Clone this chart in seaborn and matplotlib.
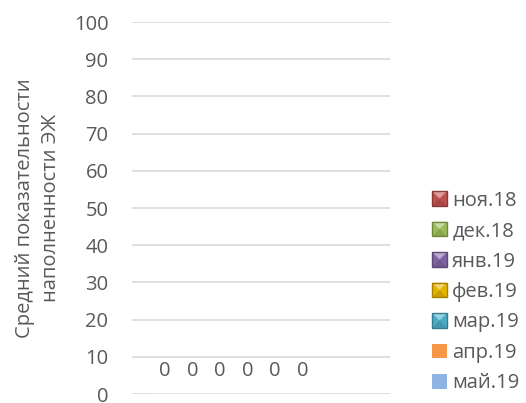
import numpy as np
import pandas as pd
import matplotlib
matplotlib.use("Agg")
import matplotlib.pyplot as plt
import seaborn as sns
from matplotlib.legend_handler import HandlerBase
from matplotlib.patches import Polygon, Rectangle
from matplotlib.colors import to_rgb

# data: one group, seven months, all zero (last month empty)
months = ["ноя.18", "дек.18", "янв.19", "фев.19", "мар.19", "апр.19", "май.19"]
values = [0, 0, 0, 0, 0, 0, np.nan]
colors = ["#C0504D", "#9BBB59", "#8064A2", "#E6B400", "#4BACC6", "#F79646", "#8DB4E2"]
bevel = [True, True, True, True, True, False, False]
yticks = [0, 10, 20, 30, 40, 50, 60, 70, 80, 90, 100]
ylabel = "Средний показательности\nнаполненности ЭЖ"

df = pd.DataFrame({"group": ["" for _ in months], "month": months, "value": values})

sns.set_style("white")
plt.rcParams["font.family"] = ["Open Sans", "DejaVu Sans"]
txt = "#595959"
fs = 14.5


class Swatch:
    def __init__(self, color, bevelled):
        self.color = color
        self.bevelled = bevelled


class SwatchHandler(HandlerBase):
    def create_artists(self, legend, h, xdescent, ydescent, width, height, fontsize, trans):
        s = min(width, height)
        x0, y0 = -xdescent + (width - s) / 2, -ydescent + (height - s) / 2
        c = np.array(to_rgb(h.color))
        if not h.bevelled:
            return [Rectangle((x0, y0), s, s, facecolor=c, edgecolor="none", transform=trans)]
        dark = c * 0.72
        light = c + (1 - c) * 0.45
        arts = [Rectangle((x0, y0), s, s, facecolor=c, edgecolor="none", transform=trans)]
        cx, cy = x0 + s / 2, y0 + s / 2
        arts.append(Polygon([(x0, y0 + s), (x0 + s, y0 + s), (cx, cy)], closed=True,
                            facecolor=light, edgecolor="none", transform=trans))
        arts.append(Polygon([(x0, y0), (x0 + s, y0), (cx, cy)], closed=True,
                            facecolor=c * 0.88, edgecolor="none", transform=trans))
        arts.append(Rectangle((x0, y0), s, s, facecolor="none", edgecolor=dark,
                              linewidth=1.0, transform=trans))
        return arts


fig = plt.figure(figsize=(5.26, 4.03), dpi=100)
ax = fig.add_axes([132 / 526, 1 - 394 / 403, (390 - 132) / 526, (394 - 22) / 403])

sns.barplot(data=df.dropna(), x="group", y="value", hue="month", hue_order=months,
            palette=dict(zip(months, colors)), ax=ax, legend=False, width=0.8)

for c in ax.containers:
    ax.bar_label(c, fmt="%g", padding=9, fontsize=fs, color=txt)

ax.set_ylim(0, 100)
ax.set_yticks(yticks)
ax.set_xlim(-0.479, 0.591)
ax.set_xticks([])
ax.set_xlabel("")
ax.set_ylabel(ylabel, fontsize=fs, color=txt, labelpad=9, linespacing=1.4)
ax.tick_params(axis="y", length=0, labelsize=fs, labelcolor=txt, pad=17)
ax.yaxis.grid(True, color="#D9D9D9", linewidth=1.2)
ax.set_axisbelow(True)
sns.despine(ax=ax, left=True, bottom=True)

handles = [Swatch(c, b) for c, b in zip(colors, bevel)]
leg = fig.legend(handles, months, handler_map={Swatch: SwatchHandler()},
                 loc="center left", bbox_to_anchor=(432 / 526, 1 - 292 / 403),
                 frameon=False, fontsize=fs, handlelength=0.75, handleheight=0.75,
                 handletextpad=0.25, labelspacing=0.52, borderpad=0, borderaxespad=0)
for t in leg.get_texts():
    t.set_color(txt)

fig.savefig("out.png", dpi=100)
